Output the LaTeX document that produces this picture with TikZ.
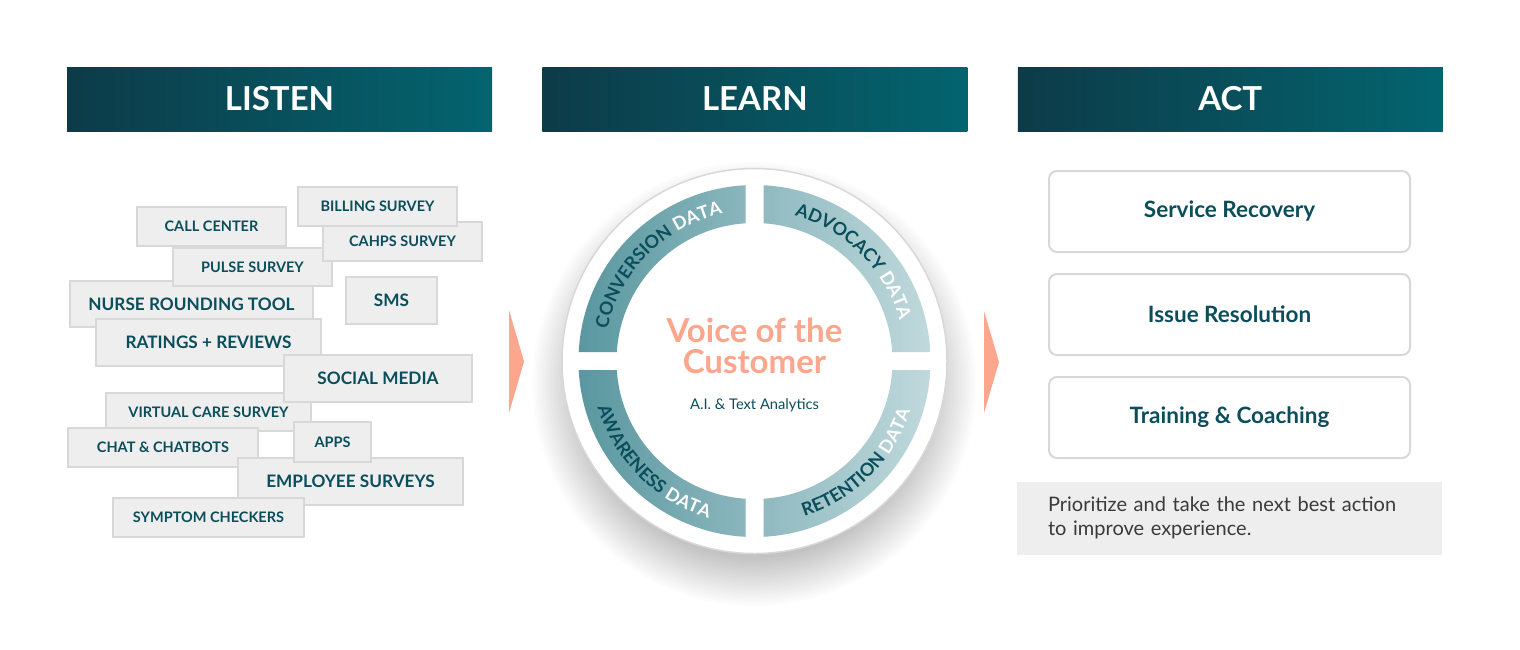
\documentclass[tikz,border=0pt]{standalone}
\usepackage{fontspec}
\setmainfont{Lato}
\usetikzlibrary{positioning,decorations.text}

\definecolor{headdark}{HTML}{0D3B48}
\definecolor{headlight}{HTML}{03646F}
\definecolor{tealtext}{HTML}{0B4E5B}
\definecolor{tagfill}{HTML}{EEEEEE}
\definecolor{tagline}{HTML}{D8D8D8}
\definecolor{salmon}{HTML}{FBA68D}
\definecolor{ringleft}{HTML}{5A97A0}
\definecolor{ringright}{HTML}{C0D9DC}
\definecolor{notetext}{HTML}{3A3A3A}
\newcommand{\ringfont}{\fontsize{18}{19}\selectfont\bfseries}

\begin{document}
\begin{tikzpicture}[
  x=1pt, y=1pt,
  node distance=20pt,
  head/.style={minimum width=425pt, minimum height=64pt, inner sep=0pt, left color=headdark, right color=headlight, text=white, font=\fontsize{33}{36}\selectfont\bfseries},
  tag/.style={draw=tagline, fill=tagfill, line width=2pt, inner sep=0pt, text=tealtext, font=\fontsize{14.5}{16}\selectfont\bfseries},
  bigtag/.style={tag, font=\fontsize{17.2}{20}\selectfont\bfseries},
  actbox/.style={draw=tagline, fill=white, line width=2pt, rounded corners=8pt, minimum width=361pt, minimum height=81pt, text=tealtext, font=\fontsize{22.5}{26}\selectfont\bfseries},
  ringtext/.style={decorate, decoration={text along path, text align=center, text={#1}}}
]
\fill[white] (0,0) rectangle (1520,-649);
\useasboundingbox (0,0) rectangle (1520,-649);

% column heads
\node[head] (listen) at (279.5,-99) {LISTEN};
\node[head, right=50pt of listen] (learn) {LEARN};
\node[head, right=50pt of learn] (act) {ACT};

% listen: channels
\node[bigtag, minimum width=243pt, minimum height=46pt] (nurse) at (191.5,-304) {NURSE ROUNDING TOOL};
\node[tag, minimum width=149pt, minimum height=39pt] (call) at (211.5,-226.5) {CALL CENTER};
\node[tag, minimum width=159pt, minimum height=38pt] (pulse) at (252.5,-267) {PULSE SURVEY};
\node[tag, minimum width=159pt, minimum height=39pt] (cahps) at (402.5,-241.5) {CAHPS SURVEY};
\node[tag, minimum width=159pt, minimum height=39pt] (billing) at (377.5,-206.5) {BILLING SURVEY};
\node[bigtag, minimum width=91pt, minimum height=47pt] (sms) at (391.5,-300.5) {SMS};
\node[bigtag, minimum width=225pt, minimum height=47pt] (ratings) at (208.5,-342.5) {RATINGS + REVIEWS};
\node[tag, minimum width=205pt, minimum height=38pt] (virtual) at (208.5,-412) {VIRTUAL CARE SURVEY};
\node[bigtag, minimum width=188pt, minimum height=47pt] (social) at (378,-378.5) {SOCIAL MEDIA};
\node[tag, minimum width=190pt, minimum height=39pt] (chat) at (163,-447.5) {CHAT \& CHATBOTS};
\node[bigtag, minimum width=225pt, minimum height=47pt] (employee) at (350.5,-481.5) {EMPLOYEE SURVEYS};
\node[tag, minimum width=77pt, minimum height=40pt] (apps) at (332.5,-442) {APPS};
\node[tag, minimum width=191pt, minimum height=39pt] (symptom) at (208.5,-517.5) {SYMPTOM CHECKERS};

% learn: voice of the customer wheel
\foreach \k in {1,...,20}
  \fill[black, opacity=0.011] (754.5,-384) circle[radius=172+2.5*\k];
\node[circle, fill=white, draw=tagline, line width=1.5pt, minimum size=385pt, inner sep=0pt] (voc) at (754.5,-361) {};
\begin{scope}[shift={(voc.center)}]
  \clip (-180,9) rectangle (-9,180) (9,9) rectangle (180,180) (-180,-9) rectangle (-9,-180) (9,-9) rectangle (180,-180);
  \shade[left color=ringleft, right color=ringright, even odd rule] (0,0) circle[radius=176] (0,0) circle[radius=138];
\end{scope}
\path[ringtext={|\ringfont\color{tealtext}|CONVERSION |\ringfont\color{white}|DATA}] (voc.center) ++(180:150.5) arc[start angle=180, end angle=90, radius=150.5];
\path[ringtext={|\ringfont\color{tealtext}|ADVOCACY |\ringfont\color{white}|DATA}] (voc.center) ++(90:150.5) arc[start angle=90, end angle=0, radius=150.5];
\path[ringtext={|\ringfont\color{tealtext}|AWARENESS |\ringfont\color{white}|DATA}] (voc.center) ++(180:163.5) arc[start angle=180, end angle=270, radius=163.5];
\path[ringtext={|\ringfont\color{tealtext}|RETENTION |\ringfont\color{white}|DATA}] (voc.center) ++(270:163.5) arc[start angle=270, end angle=360, radius=163.5];
\node[align=center, text=salmon, font=\fontsize{33}{31}\selectfont\bfseries] (vocname) at (754.5,-346) {Voice of the\\Customer};
\node[text=tealtext, font=\fontsize{14.7}{16}\selectfont] (ai) at (754.5,-405) {A.I. \& Text Analytics};

% chevrons between columns
\fill[salmon] (509,-310) -- (524,-361.5) -- (509,-413) -- cycle;
\fill[salmon] (984,-311) -- (999,-362) -- (984,-413) -- cycle;

% act
\node[actbox] (recovery) at (1229.5,-211.5) {Service Recovery};
\node[actbox, below=of recovery] (resolution) {Issue Resolution};
\node[actbox, below=of resolution] (coaching) {Training \& Coaching};
\node[fill=tagfill, minimum width=425pt, minimum height=73pt, text width=363pt, inner xsep=31pt, align=left, text=notetext, font=\fontsize{20}{24}\selectfont, below=22.5pt of coaching] (note) {Prioritize and take the next best action\\to improve experience.};
\end{tikzpicture}
\end{document}
